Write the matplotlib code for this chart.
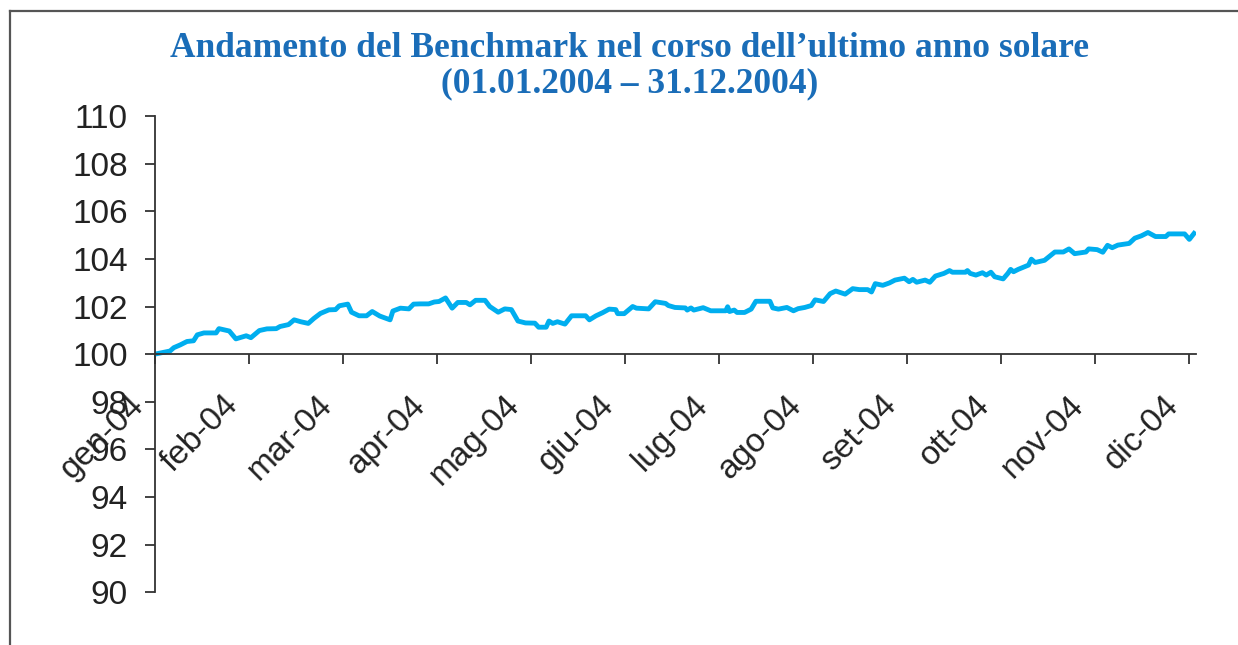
import matplotlib
matplotlib.use("Agg")
import matplotlib.pyplot as plt
import matplotlib.transforms as mtransforms
from matplotlib.lines import Line2D

# Benchmark values (x = months since 1 Jan 2004)
month_pos = [0.0, 0.16, 0.2, 0.27, 0.34, 0.41, 0.45, 0.52, 0.65, 0.68, 0.79, 0.86, 0.97, 1.02,
             1.11, 1.19, 1.29, 1.33, 1.42, 1.48, 1.55, 1.63, 1.69, 1.76, 1.85, 1.92, 1.96, 2.05,
             2.09, 2.17, 2.25, 2.31, 2.39, 2.5, 2.53, 2.61, 2.7, 2.75, 2.82, 2.91, 2.97, 3.02,
             3.09, 3.16, 3.22, 3.31, 3.35, 3.41, 3.51, 3.56, 3.65, 3.72, 3.79, 3.86, 3.94, 4.04,
             4.08, 4.16, 4.19, 4.23, 4.28, 4.36, 4.43, 4.58, 4.62, 4.69, 4.76, 4.83, 4.9, 4.92,
             4.99, 5.08, 5.12, 5.25, 5.32, 5.43, 5.46,
             5.53, 5.64, 5.66, 5.70, 5.73, 5.83, 5.91, 6.07, 6.09, 6.11, 6.16, 6.19, 6.27, 6.34,
             6.39, 6.54, 6.57, 6.63, 6.72, 6.79, 6.84, 6.91, 6.98, 7.02, 7.11, 7.18, 7.24, 7.34,
             7.42, 7.49, 7.58, 7.62, 7.66, 7.74, 7.81, 7.87, 7.97, 8.02, 8.06, 8.10, 8.19, 8.24,
             8.30, 8.39, 8.45, 8.48, 8.62, 8.64, 8.67, 8.73, 8.80, 8.84, 8.89, 8.93, 9.02, 9.07,
             9.10, 9.13, 9.18, 9.29, 9.32, 9.36, 9.46, 9.57, 9.66, 9.72, 9.78, 9.90, 9.93, 10.02,
             10.08, 10.13, 10.18, 10.24, 10.36, 10.42, 10.49, 10.56, 10.64, 10.75, 10.78, 10.95,
             11.0, 11.05]
benchmark = [100.0, 100.13, 100.27, 100.39, 100.53, 100.56, 100.81, 100.89, 100.89, 101.07,
             100.97, 100.64, 100.77, 100.69, 100.99, 101.06, 101.07, 101.16, 101.24, 101.44,
             101.36, 101.29, 101.5, 101.71, 101.86, 101.87, 102.03, 102.1, 101.76, 101.61,
             101.61, 101.79, 101.6, 101.44, 101.81, 101.93, 101.9, 102.1, 102.11, 102.11,
             102.19, 102.21, 102.36, 101.93, 102.17, 102.17, 102.07, 102.26, 102.26, 102.0,
             101.76, 101.9, 101.87, 101.39, 101.31, 101.3, 101.13, 101.13, 101.39, 101.29,
             101.36, 101.26, 101.61, 101.61, 101.44, 101.61, 101.74, 101.89, 101.87, 101.7,
             101.7, 102.0, 101.93, 101.9, 102.2, 102.13, 102.04,
             101.96, 101.94, 101.85, 101.94, 101.85, 101.95, 101.82, 101.82, 101.99, 101.79,
             101.85, 101.75, 101.75, 101.89, 102.22, 102.22, 101.94, 101.89, 101.96, 101.82,
             101.91, 101.96, 102.04, 102.28, 102.21, 102.54, 102.65, 102.52, 102.75, 102.71,
             102.71, 102.61, 102.96, 102.89, 102.99, 103.11, 103.19, 103.04, 103.14, 103.02,
             103.11, 103.02, 103.28, 103.39, 103.51, 103.44, 103.44, 103.51, 103.39, 103.32,
             103.42, 103.32, 103.44, 103.25, 103.16, 103.39, 103.56, 103.46, 103.56, 103.74,
             103.99, 103.85, 103.94, 104.29, 104.29, 104.42, 104.22, 104.29, 104.42, 104.39,
             104.28, 104.57, 104.47, 104.58, 104.65, 104.87, 104.97, 105.11, 104.94, 104.94,
             105.05, 105.05, 104.82, 105.07]

month_labels = ["gen-04", "feb-04", "mar-04", "apr-04", "mag-04", "giu-04",
                "lug-04", "ago-04", "set-04", "ott-04", "nov-04", "dic-04"]
y_ticks = list(range(90, 111, 2))

plt.rcParams['font.family'] = ['Liberation Sans', 'DejaVu Sans']
axis_col = '#333333'

fig = plt.figure(figsize=(12.38, 6.45), dpi=100)
ax = fig.add_axes([0.1252, 0.082, 0.8408, 0.738])

ax.plot(month_pos, benchmark, color='#00aeef', lw=3.5, solid_joinstyle='round')

ax.set_xlim(0, 11.07)
ax.set_ylim(90, 110)
ax.set_yticks(y_ticks)
ax.set_xticks(range(len(month_labels)))
ax.set_xticklabels(month_labels)

for s in ['top', 'right']:
    ax.spines[s].set_visible(False)
ax.spines['bottom'].set_position(('data', 100))
for s in ['left', 'bottom']:
    ax.spines[s].set_color(axis_col)
    ax.spines[s].set_linewidth(1.3)

ax.tick_params(axis='y', direction='out', length=7.5, width=1.3, color=axis_col,
               labelsize=24, labelcolor='#222222', pad=12)
ax.tick_params(axis='x', direction='out', length=7.5, width=1.3, color=axis_col,
               labelsize=24, labelcolor='#222222', pad=18)

shift = mtransforms.ScaledTranslation(-5 / 100, 0, fig.dpi_scale_trans)
for lbl in ax.get_xticklabels():
    lbl.set_rotation(45)
    lbl.set_ha('right')
    lbl.set_va('top')
    lbl.set_transform(lbl.get_transform() + shift)

title_col = '#1a6db8'
fig.text(630 / 1238, 1 - 57 / 645, "Andamento del Benchmark nel corso dell\u2019ultimo anno solare",
         ha='center', va='baseline', fontsize=25.5, fontweight='bold', color=title_col,
         family='Liberation Serif')
fig.text(630 / 1238, 1 - 92 / 645, "(01.01.2004 \u2013 31.12.2004)",
         ha='center', va='baseline', fontsize=25.5, fontweight='bold', color=title_col,
         family='Liberation Serif')

# outer frame (left and top edges)
fig.add_artist(Line2D([10 / 1238, 10 / 1238], [0, 1 - 10.5 / 645], color='#555555', lw=1.6))
fig.add_artist(Line2D([10 / 1238, 1], [1 - 10.5 / 645, 1 - 10.5 / 645], color='#555555', lw=1.6))

fig.savefig('out.png', dpi=100)
